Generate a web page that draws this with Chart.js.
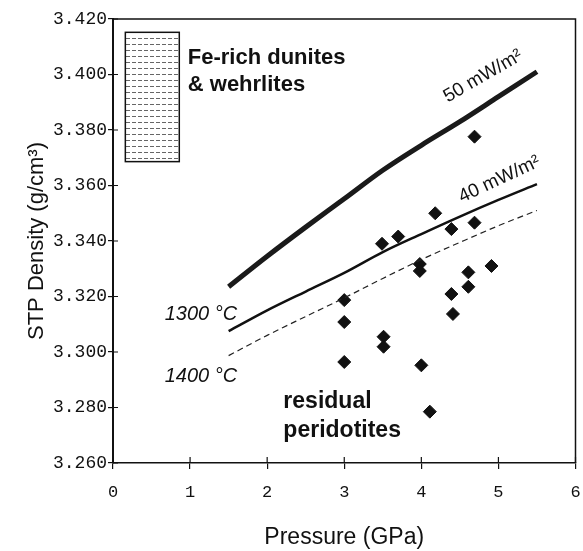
<!DOCTYPE html>
<html>
<head>
<meta charset="utf-8">
<script src="https://cdn.jsdelivr.net/npm/chart.js@4.4.0/dist/chart.umd.min.js"></script>
<style>
    html, body { margin: 0; padding: 0; background: #fff; }
    #wrap { width: 583px; height: 551px; }
</style>
</head>
<body>
<div id="wrap"><canvas id="densityChart" width="583" height="551"></canvas></div>
<script>
// Residual peridotite samples
const samplePressure = [4.18, 3.49, 3.70, 4.39, 4.69, 3.98, 3.98, 4.61, 4.91, 4.61, 4.39, 4.41, 3.00, 3.00, 3.51, 3.51, 3.00, 4.00, 4.11, 4.69];
const sampleDensity = [3.3500, 3.3390, 3.3416, 3.3443, 3.3466, 3.3317, 3.3292, 3.3287, 3.3310, 3.3235, 3.3209, 3.3137, 3.3187, 3.3108, 3.3055, 3.3019, 3.2964, 3.2952, 3.2785, 3.3776];

// Model curves
const curvePressure = [1.5, 2.0, 2.5, 3.0, 3.5, 4.0, 4.5, 5.0, 5.5];
const density50mW = [3.3235, 3.3345, 3.3450, 3.3552, 3.3655, 3.3745, 3.3830, 3.3920, 3.4010];
const density40mW = [3.3075, 3.3150, 3.3218, 3.3285, 3.3360, 3.3425, 3.3488, 3.3548, 3.3605];
const density1400C = [3.2987, 3.3060, 3.3128, 3.3195, 3.3265, 3.3333, 3.3395, 3.3455, 3.3510];

// Fe-rich dunites & wehrlites field
const feRichPressure = [0.16, 0.86];
const feRichDensity = [3.3686, 3.4152];

// Axis ticks
const xTicks = [0, 1, 2, 3, 4, 5, 6];
const yTicks = [3.26, 3.28, 3.30, 3.32, 3.34, 3.36, 3.38, 3.40, 3.42];

const toPoints = (xs, ys) => xs.map((x, i) => ({ x: x, y: ys[i] }));

// Text annotations, anchored in data units
const notes = [
    { text: 'Fe-rich dunites', x: 0.97, y: 3.4038, font: 'bold 22px "Liberation Sans", Arial', rot: 0, base: 'alphabetic' },
    { text: '& wehrlites', x: 0.97, y: 3.3940, font: 'bold 22px "Liberation Sans", Arial', rot: 0, base: 'alphabetic' },
    { text: '50 mW/m²', x: 4.37, y: 3.3885, font: '19px "Liberation Sans", Arial', rot: -30, base: 'bottom' },
    { text: '40 mW/m²', x: 4.55, y: 3.3524, font: '19px "Liberation Sans", Arial', rot: -25, base: 'bottom' },
    { text: '1300 °C', x: 0.67, y: 3.3137, font: 'italic 20px "Liberation Sans", Arial', rot: 0, base: 'middle' },
    { text: '1400 °C', x: 0.67, y: 3.2913, font: 'italic 20px "Liberation Sans", Arial', rot: 0, base: 'middle' },
    { text: 'residual', x: 2.21, y: 3.2798, font: 'bold 23px "Liberation Sans", Arial', rot: 0, base: 'alphabetic' },
    { text: 'peridotites', x: 2.21, y: 3.2694, font: 'bold 23px "Liberation Sans", Arial', rot: 0, base: 'alphabetic' }
];

// Stipple used inside the Fe-rich box
function makeStipple() {
    const c = document.createElement('canvas');
    c.width = 6;
    c.height = 6;
    const g = c.getContext('2d');
    g.fillStyle = '#fff';
    g.fillRect(0, 0, 6, 6);
    g.fillStyle = '#666';
    g.fillRect(0, 2, 4, 1);
    return g.createPattern(c, 'repeat');
}

const extras = {
    id: 'extras',
    beforeDatasetsDraw(chart) {
        const { ctx, scales: { x, y } } = chart;
        const l = x.getPixelForValue(feRichPressure[0]);
        const r = x.getPixelForValue(feRichPressure[1]);
        const t = y.getPixelForValue(feRichDensity[1]);
        const b = y.getPixelForValue(feRichDensity[0]);
        ctx.save();
        ctx.fillStyle = makeStipple();
        ctx.fillRect(l, t, r - l, b - t);
        ctx.strokeStyle = '#111';
        ctx.lineWidth = 1.5;
        ctx.strokeRect(l, t, r - l, b - t);
        ctx.restore();
    },
    afterDraw(chart) {
        const { ctx, chartArea: a, scales: { x, y } } = chart;
        ctx.save();
        // frame on top and right
        ctx.strokeStyle = '#111';
        ctx.lineWidth = 1.5;
        ctx.beginPath();
        ctx.moveTo(a.left, a.top);
        ctx.lineTo(a.right, a.top);
        ctx.lineTo(a.right, a.bottom);
        ctx.stroke();
        // inner half of the crossing ticks
        ctx.lineWidth = 1.2;
        ctx.beginPath();
        yTicks.forEach(v => {
            const py = y.getPixelForValue(v);
            ctx.moveTo(a.left, py);
            ctx.lineTo(a.left + 5, py);
        });
        xTicks.forEach(v => {
            const px = x.getPixelForValue(v);
            ctx.moveTo(px, a.bottom);
            ctx.lineTo(px, a.bottom - 6);
        });
        ctx.stroke();
        // annotations
        ctx.fillStyle = '#111';
        notes.forEach(n => {
            ctx.save();
            ctx.translate(x.getPixelForValue(n.x), y.getPixelForValue(n.y));
            ctx.rotate(n.rot * Math.PI / 180);
            ctx.font = n.font;
            ctx.textAlign = 'left';
            ctx.textBaseline = n.base;
            ctx.fillText(n.text, 0, 0);
            ctx.restore();
        });
        ctx.restore();
    }
};

new Chart(document.getElementById('densityChart'), {
    type: 'scatter',
    data: {
        datasets: [
            {
                label: '50 mW/m2',
                data: toPoints(curvePressure, density50mW),
                showLine: true,
                borderColor: '#1a1a1a',
                borderWidth: 5,
                pointRadius: 0,
                cubicInterpolationMode: 'monotone'
            },
            {
                label: '40 mW/m2',
                data: toPoints(curvePressure, density40mW),
                showLine: true,
                borderColor: '#111',
                borderWidth: 2.5,
                pointRadius: 0,
                cubicInterpolationMode: 'monotone'
            },
            {
                label: '1400 C',
                data: toPoints(curvePressure, density1400C),
                showLine: true,
                borderColor: '#222',
                borderWidth: 1.2,
                borderDash: [6, 4],
                pointRadius: 0,
                cubicInterpolationMode: 'monotone'
            },
            {
                label: 'residual peridotites',
                data: toPoints(samplePressure, sampleDensity),
                pointStyle: 'rectRot',
                pointRadius: 6.5,
                backgroundColor: '#111',
                borderColor: '#111',
                borderWidth: 1
            }
        ]
    },
    options: {
        responsive: false,
        animation: false,
        layout: { padding: { top: 19, right: 4, left: 0, bottom: 0 } },
        plugins: {
            legend: { display: false },
            tooltip: { enabled: false }
        },
        scales: {
            x: {
                type: 'linear',
                min: 0,
                max: 6,
                afterFit: s => { s.height = 88; s.paddingLeft = 0; s.paddingRight = 0; },
                afterBuildTicks: s => { s.ticks = xTicks.map(v => ({ value: v })); },
                ticks: {
                    color: '#111',
                    padding: 13,
                    font: { family: '"Liberation Mono", monospace', size: 17 }
                },
                grid: { drawOnChartArea: false, tickLength: 6, color: '#111', lineWidth: 1.2 },
                border: { color: '#111', width: 1.5 },
                title: {
                    display: true,
                    text: 'Pressure (GPa)',
                    color: '#111',
                    padding: { bottom: 0 },
                    font: { family: '"Liberation Sans", Arial', size: 23 }
                }
            },
            y: {
                type: 'linear',
                min: 3.26,
                max: 3.42,
                afterFit: s => { s.width = 113; s.paddingTop = 0; s.paddingBottom = 0; },
                afterBuildTicks: s => { s.ticks = yTicks.map(v => ({ value: v })); },
                ticks: {
                    color: '#111',
                    padding: 1,
                    callback: v => v.toFixed(3),
                    font: { family: '"Liberation Mono", monospace', size: 18 }
                },
                grid: { drawOnChartArea: false, tickLength: 5, color: '#111', lineWidth: 1.2 },
                border: { color: '#111', width: 2 },
                title: {
                    display: true,
                    text: 'STP Density (g/cm³)',
                    color: '#111',
                    padding: { top: 24 },
                    font: { family: '"Liberation Sans", Arial', size: 22 }
                }
            }
        }
    },
    plugins: [extras]
});
</script>
</body>
</html>
